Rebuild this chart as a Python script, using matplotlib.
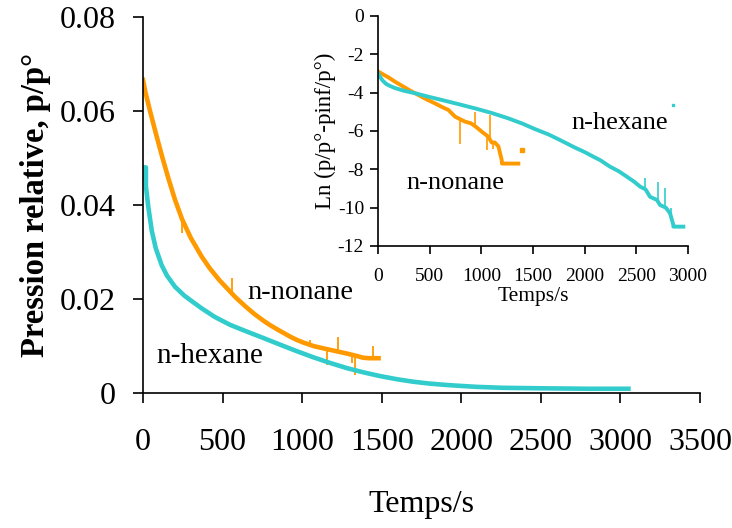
import numpy as np
import matplotlib
matplotlib.use('Agg')
import matplotlib.pyplot as plt

plt.rcParams['font.family'] = ['Liberation Serif', 'DejaVu Serif']

# --- courbe principale : pression relative p/p° en fonction du temps
nonane_t = [0, 15, 44, 80, 120, 159, 200, 245, 300, 369, 420, 480, 530, 580, 641,
            700, 756, 800, 861, 924, 966, 1010, 1070, 1133, 1200, 1280, 1340,
            1384, 1420, 1480]
nonane_p = [0.0666, 0.0640, 0.0600, 0.0553, 0.0503, 0.0457, 0.0412, 0.0370, 0.0330,
            0.0290, 0.0265, 0.0240, 0.0222, 0.0204, 0.0185, 0.0168, 0.0154, 0.0144,
            0.0132, 0.0120, 0.0113, 0.0107, 0.0100, 0.0095, 0.0090, 0.0084, 0.0079,
            0.0075, 0.0074, 0.0074]
# pics de bruit (t, bas, haut)
nonane_spk_t = [245, 340, 557, 1049, 1154, 1227, 1311, 1332, 1447]
nonane_spk_lo = [0.0340, 0.0300, 0.0210, 0.0100, 0.0060, 0.0088, 0.0064, 0.0038, 0.0074]
nonane_spk_hi = [0.0372, 0.0315, 0.0245, 0.0112, 0.0094, 0.0120, 0.0084, 0.0080, 0.0099]

hexane_t = [0, 3, 18, 18, 33, 55, 80, 117, 150, 201, 260, 320, 369, 450, 547, 650,
            756, 860, 966, 1070, 1175, 1280, 1384, 1489, 1600, 1698, 1800, 1908,
            2000, 2100, 2262, 2500, 2800, 3050]
hexane_p = [0.0460, 0.0480, 0.0480, 0.0440, 0.0396, 0.0345, 0.0308, 0.0272, 0.0250,
            0.0226, 0.0207, 0.0192, 0.0180, 0.0162, 0.0145, 0.0131, 0.0117, 0.0103,
            0.0089, 0.0076, 0.0064, 0.0053, 0.0044, 0.0036, 0.0029, 0.0024, 0.0020,
            0.0017, 0.0015, 0.0013, 0.0011, 0.0010, 0.0009, 0.0009]

# --- encart : Ln(p/p° - pinf/p°)
ln_nonane_t = [3, 50, 100, 165, 250, 320, 390, 470, 552, 620, 681, 745, 800, 842,
               900, 945, 1003, 1068, 1100, 1130, 1165, 1197, 1200, 1358]
ln_nonane = [-2.90, -3.05, -3.20, -3.43, -3.70, -3.92, -4.12, -4.35, -4.56, -4.75,
             -4.90, -5.25, -5.40, -5.51, -5.60, -5.77, -6.03, -6.30, -6.60, -6.60,
             -6.80, -7.51, -7.70, -7.70]
ln_nonane_spk_t = [794, 939, 1050, 1084, 1110]
ln_nonane_spk_lo = [-6.70, -5.77, -7.00, -6.35, -6.95]
ln_nonane_spk_hi = [-5.35, -4.99, -6.20, -5.16, -6.50]
ln_nonane_stray_t = [1390]
ln_nonane_stray = [-6.99]

ln_hexane_t = [3, 20, 45, 80, 120, 165, 250, 358, 480, 616, 780, 939, 1100, 1261,
               1400, 1519, 1650, 1761, 1900, 2000, 2084, 2150, 2245, 2330, 2407,
               2480, 2536, 2590, 2632, 2700, 2729, 2785, 2826, 2858, 2858, 2955]
ln_hexane = [-3.00, -3.18, -3.37, -3.55, -3.66, -3.76, -3.90, -4.03, -4.20, -4.38,
             -4.60, -4.82, -5.06, -5.34, -5.62, -5.90, -6.18, -6.47, -6.85, -7.10,
             -7.34, -7.52, -7.86, -8.10, -8.38, -8.65, -8.90, -9.05, -9.43, -9.60,
             -9.86, -10.00, -10.29, -10.90, -10.99, -10.99]
ln_hexane_spk_t = [2584, 2713, 2777, 2840]
ln_hexane_spk_lo = [-9.00, -9.55, -9.95, -10.60]
ln_hexane_spk_hi = [-8.47, -8.64, -8.99, -10.00]
ln_hexane_stray_t = [2858]
ln_hexane_stray = [-4.64]

main_xticks = [0, 500, 1000, 1500, 2000, 2500, 3000, 3500]
main_yticks = [0, 0.02, 0.04, 0.06, 0.08]
main_ylabels = ['0', '0.02', '0.04', '0.06', '0.08']
inset_xticks = [0, 500, 1000, 1500, 2000, 2500, 3000]
inset_yticks = [0, -2, -4, -6, -8, -10, -12]
inset_ylabels = ['0', '-2', '-4', '-6', '-8', '-10', '-12']

ORANGE = '#FF9900'
CYAN = '#33CCCC'

fig = plt.figure(figsize=(7.32, 5.28), dpi=100)

ax = fig.add_axes([0.1954, 0.2557, 0.7609, 0.7121])
ax.plot(nonane_t, nonane_p, color=ORANGE, lw=3.3, solid_joinstyle='round')
ax.vlines(nonane_spk_t, nonane_spk_lo, nonane_spk_hi, color=ORANGE, lw=1.3)
ax.plot(hexane_t, hexane_p, color=CYAN, lw=3.3, solid_joinstyle='round')
ax.set_xlim(0, 3500)
ax.set_ylim(0, 0.08)
ax.set_xticks(main_xticks)
ax.set_xticklabels([str(v) for v in main_xticks])
ax.set_yticks(main_yticks)
ax.set_yticklabels(main_ylabels)
for s in ['top', 'right']:
    ax.spines[s].set_visible(False)
for s in ['left', 'bottom']:
    ax.spines[s].set_linewidth(1.2)
ax.tick_params(direction='out', length=7, width=1.2, labelsize=23)
ax.tick_params(axis='x', pad=18)
ax.tick_params(axis='y', pad=13)
ax.set_xlabel('Temps/s', fontsize=23, labelpad=24)
ax.set_ylabel('Pression relative, p/p°', fontsize=23.5, fontweight='bold', labelpad=6)
ax.text(987, 0.0213, 'n-nonane', fontsize=20.5, ha='center', va='center')
ax.text(421, 0.0079, 'n-hexane', fontsize=21, ha='center', va='center')

# encart
ins = fig.add_axes([0.5164, 0.5341, 0.4235, 0.4356])
ins.patch.set_alpha(0)
ins.plot(ln_nonane_t, ln_nonane, color=ORANGE, lw=2.8, solid_joinstyle='round')
ins.vlines(ln_nonane_spk_t, ln_nonane_spk_lo, ln_nonane_spk_hi, color=ORANGE, lw=1.2)
ins.plot(ln_nonane_stray_t, ln_nonane_stray, 's', color=ORANGE, ms=2.5)
ins.plot(ln_hexane_t, ln_hexane, color=CYAN, lw=2.8, solid_joinstyle='round')
ins.vlines(ln_hexane_spk_t, ln_hexane_spk_lo, ln_hexane_spk_hi, color=CYAN, lw=1.2)
ins.plot(ln_hexane_stray_t, ln_hexane_stray, 's', color=CYAN, ms=2)
ins.set_xlim(0, 3000)
ins.set_ylim(-12, 0)
ins.set_xticks(inset_xticks)
ins.set_xticklabels([str(v) for v in inset_xticks])
ins.set_yticks(inset_yticks)
ins.set_yticklabels(inset_ylabels)
for s in ['top', 'right']:
    ins.spines[s].set_visible(False)
for s in ['left', 'bottom']:
    ins.spines[s].set_linewidth(1.2)
ins.tick_params(direction='out', length=6, width=1.2, labelsize=14)
ins.tick_params(axis='x', pad=10)
ins.tick_params(axis='y', pad=4)
ins.set_xlabel('Temps/s', fontsize=15.5, labelpad=1)
ins.set_ylabel('Ln (p/p°-pinf/p°)', fontsize=16.5, labelpad=1)
ins.text(2342, -5.58, 'n-hexane', fontsize=19, ha='center', va='center')
ins.text(745, -8.71, 'n-nonane', fontsize=19, ha='center', va='center')

fig.savefig('out.png', dpi=100)
